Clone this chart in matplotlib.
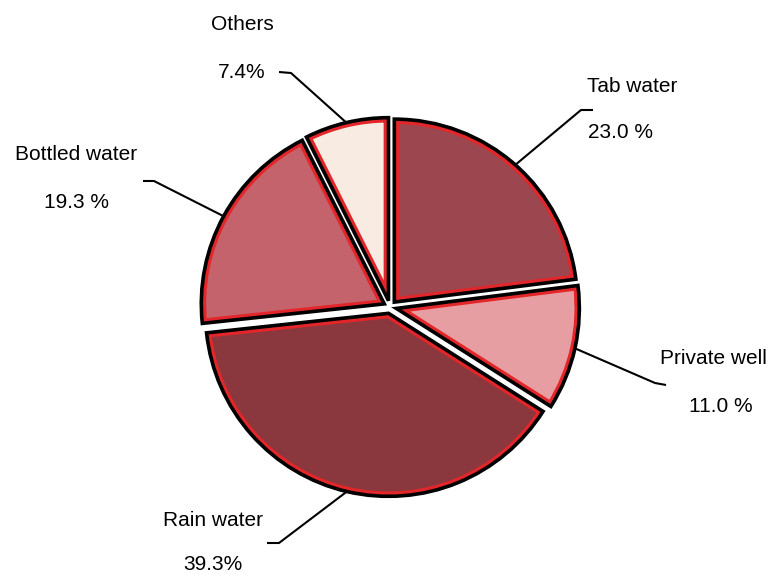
import numpy as np
import matplotlib
matplotlib.use("Agg")
import matplotlib.pyplot as plt
import matplotlib.patches as mpatches

# Drinking water sources (clockwise from 12 o'clock)
sources = ["Tab water", "Private well", "Rain water", "Bottled water", "Others"]
shares = [23.0, 11.0, 39.3, 19.3, 7.4]
pct_labels = ["23.0 %", "11.0 %", "39.3%", "19.3 %", "7.4%"]

fill_colors = ["#9c4650", "#e69ea2", "#8a383e", "#c4636c", "#f7ebe2"]
rim_red = "#e3262a"

W, H = 776, 577

# label layout in pixel coords (x, y from top): name, percent, elbow, line end
label_layout = {
    "Tab water":     dict(name=(632, 87),  pct=(621, 132), elbow=(581, 110), end=(593, 110)),
    "Private well":  dict(name=(713, 358), pct=(721, 407), elbow=(655, 383), end=(666, 385)),
    "Rain water":    dict(name=(213, 520), pct=(213, 565), elbow=(279, 543), end=(267, 543)),
    "Bottled water": dict(name=(76, 155),  pct=(76, 203),  elbow=(154, 181), end=(143, 181)),
    "Others":        dict(name=(242, 24),  pct=(242, 72),  elbow=(291, 73),  end=(279, 72)),
}

plt.rcParams["font.family"] = ["Liberation Sans", "DejaVu Sans"]

fig = plt.figure(figsize=(W / 100, H / 100), dpi=100)
ax = fig.add_axes([0, 0, 1, 1])

cx, cy, radius = 390, H - 307, 183

# explode is in data units here (axes are in pixels)
wedges, _ = ax.pie(
    shares,
    explode=[6.5] * len(shares),
    colors=fill_colors,
    startangle=90,
    counterclock=False,
    center=(cx, cy),
    radius=radius,
    wedgeprops=dict(edgecolor="none", linewidth=0),
)
ax.set_xlim(0, W)
ax.set_ylim(0, H)
ax.set_aspect("auto")
ax.axis("off")

for w, src in zip(wedges, sources):
    # red inner rim: thick stroke clipped to the wedge itself
    rim = mpatches.Wedge(w.center, w.r, w.theta1, w.theta2, fill=False,
                         edgecolor=rim_red, linewidth=7, zorder=3)
    ax.add_patch(rim)
    rim.set_clip_path(w)
    # black outline on top
    ax.add_patch(mpatches.Wedge(w.center, w.r, w.theta1, w.theta2, fill=False,
                                edgecolor="black", linewidth=2.6, zorder=4))

    # leader line from the middle of the arc to the label
    mid = np.deg2rad((w.theta1 + w.theta2) / 2)
    ax_x = w.center[0] + w.r * np.cos(mid)
    ax_y = w.center[1] + w.r * np.sin(mid)
    lay = label_layout[src]
    ex, ey = lay["elbow"]
    nx, ny = lay["end"]
    ax.plot([ax_x, ex, nx], [ax_y, H - ey, H - ny], color="black",
            linewidth=1.5, zorder=5, solid_capstyle="butt")

for src, pct in zip(sources, pct_labels):
    lay = label_layout[src]
    ax.text(lay["name"][0], H - lay["name"][1], src, ha="center", va="center",
            fontsize=15, color="black")
    ax.text(lay["pct"][0], H - lay["pct"][1], pct, ha="center", va="center",
            fontsize=15, color="black")

fig.savefig("out.png", dpi=100, facecolor="white")
